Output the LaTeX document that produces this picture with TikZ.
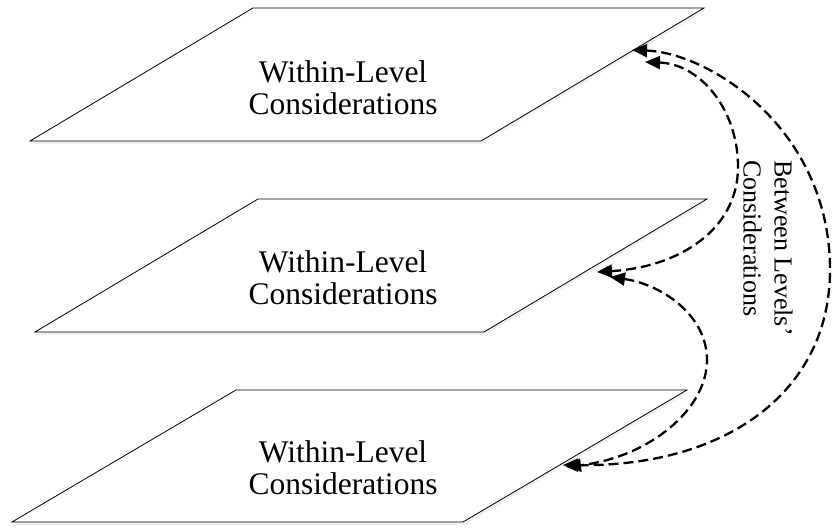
\documentclass[tikz,border=0pt]{standalone}
\usepackage{fontspec}
\setmainfont{Liberation Serif}
\usetikzlibrary{arrows.meta,shadows}
\begin{document}
\begin{tikzpicture}[x=1pt,y=1pt,
  plane/.style={draw=black,line width=0.8pt,fill=white,line join=miter,
    drop shadow={shadow xshift=1pt,shadow yshift=-3pt,opacity=0.12}},
  leveltext/.style={font=\fontsize{31.5}{32}\selectfont,align=center,inner sep=0pt},
  sidetext/.style={font=\fontsize{26}{31}\selectfont,align=left,inner sep=0pt,rotate=-90},
  link/.style={line width=2.3pt,dash pattern=on 10pt off 5pt,
    {Triangle[length=15pt,width=13pt]}-{Triangle[length=15pt,width=13pt]}}]
\useasboundingbox (0,0) rectangle (838,529);
% top plane
\coordinate (t1) at (253,521); \coordinate (t2) at (704,521);
\coordinate (t3) at (481,388); \coordinate (t4) at (30,388);
\path[plane] (t1) -- (t2) -- (t3) -- (t4) -- cycle;
% middle plane
\coordinate (m1) at (258,330); \coordinate (m2) at (707,330);
\coordinate (m3) at (484,197); \coordinate (m4) at (35,197);
\path[plane] (m1) -- (m2) -- (m3) -- (m4) -- cycle;
% bottom plane
\coordinate (b1) at (236,139); \coordinate (b2) at (687,139);
\coordinate (b3) at (463,7); \coordinate (b4) at (12,7);
\path[plane] (b1) -- (b2) -- (b3) -- (b4) -- cycle;
% texts
\node[leveltext] (toptext) at (343,441) {Within-Level\\Considerations};
\node[leveltext] (midtext) at (343,251) {Within-Level\\Considerations};
\node[leveltext] (bottext) at (343,61) {Within-Level\\Considerations};
\node[sidetext] (between) at (768,281) {Between Levels’\\Considerations};
% arrow end points
\coordinate (T1) at (632,479);
\coordinate (T2) at (645,467);
\coordinate (M1) at (597,257);
\coordinate (M2) at (610,252);
\coordinate (B1) at (563,64);
\coordinate (B2) at (566,62);
% connectors
\draw[link] (T1) .. controls (710,476) and (830,400) .. (830,259)
  .. controls (830,140) and (730,62) .. (B1);
\draw[link] (T2) .. controls (700,465) and (738,420) .. (738,362)
  .. controls (738,300) and (680,262) .. (M1);
\draw[link] (M2) .. controls (660,245) and (707,215) .. (707,169)
  .. controls (707,120) and (650,72) .. (B2);
\end{tikzpicture}
\end{document}
